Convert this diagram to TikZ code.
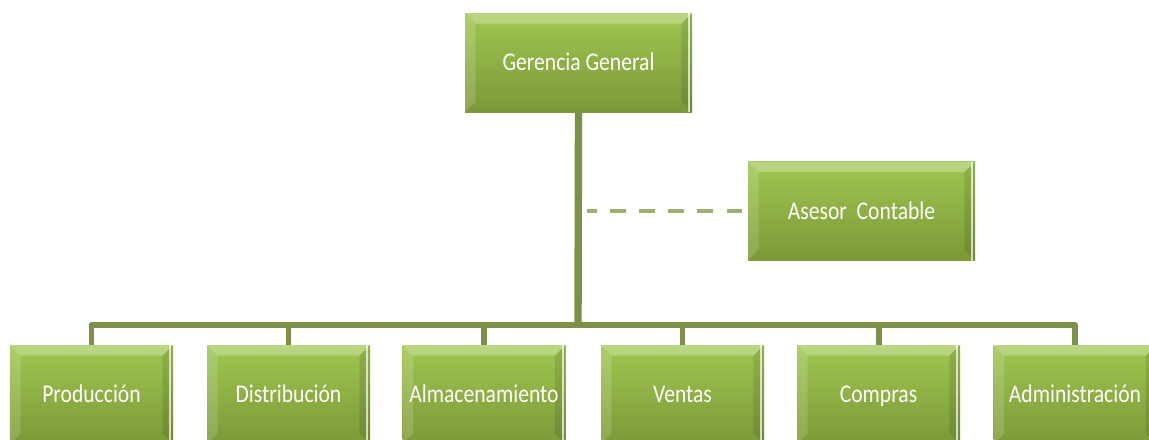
\documentclass[tikz,border=0pt]{standalone}
\usepackage{fontspec}
\setmainfont{Carlito}
\definecolor{verdeclaro}{RGB}{160,199,80}
\definecolor{verdeoscuro}{RGB}{124,152,56}
\definecolor{linea}{RGB}{125,145,70}
\definecolor{guion}{RGB}{155,176,105}
\newcommand{\rotulo}[1]{\scalebox{1}[1.18]{#1}}
\tikzset{
  cargo/.style={rectangle, inner sep=0pt, minimum width=3.26cm, minimum height=1.98cm,
    text height=11pt, text depth=1.5pt,
    top color=verdeclaro, bottom color=verdeoscuro, text=white,
    font=\fontsize{12.3}{14}\selectfont,
    path picture={
      % bisel claro arriba e izquierda, oscuro a la derecha
      \fill[white,opacity=.28] (path picture bounding box.north west) -- (path picture bounding box.north east)
        -- ([shift={(-6pt,-6pt)}]path picture bounding box.north east) -- ([shift={(6pt,-6pt)}]path picture bounding box.north west) -- cycle;
      \fill[white,opacity=.15] (path picture bounding box.north west) -- ([shift={(6pt,-6pt)}]path picture bounding box.north west)
        -- ([shift={(6pt,6pt)}]path picture bounding box.south west) -- (path picture bounding box.south west) -- cycle;
      \fill[black,opacity=.10] (path picture bounding box.north east) -- ([shift={(-6pt,-6pt)}]path picture bounding box.north east)
        -- ([shift={(-6pt,6pt)}]path picture bounding box.south east) -- (path picture bounding box.south east) -- cycle;
      \draw[white,opacity=.7,line width=1.2pt] ([xshift=-1.5pt]path picture bounding box.north east) -- ([xshift=-1.5pt]path picture bounding box.south east);
    }},
  jefe/.style={cargo, minimum width=4.54cm},
  conector/.style={draw=linea, line width=3.4pt, line join=round},
  asesoria/.style={draw=guion, line width=2.8pt, dash pattern=on 9pt off 7.6pt}
}
\begin{document}
\begin{tikzpicture}[x=0.2mm, y=-0.2mm]
\useasboundingbox (0,0) rectangle (1149,439);
\begin{scope}
\clip (0,0) rectangle (1149,439);

\node[jefe] (gg) at (578.5,62.5) {\rotulo{Gerencia General}};
\node[jefe] (asesor) at (861.5,211) {\rotulo{Asesor\ \ Contable}};
\coordinate (barra) at (578,325);

\node[cargo] (prod) at (91.5,394.5) {\rotulo{Producción}};
\node[cargo] (dist) at (288.5,394.5) {\rotulo{Distribución}};
\node[cargo] (alma) at (484,394.5) {\rotulo{Almacenamiento}};
\node[cargo] (vent) at (682.5,394.5) {\rotulo{Ventas}};
\node[cargo] (comp) at (878.5,394.5) {\rotulo{Compras}};
\node[cargo] (admi) at (1075,394.5) {\rotulo{Administración}};

\draw[conector, line width=4.2pt] (gg.south) -- (barra);
\foreach \c in {prod,dist,alma,vent,comp,admi}
  \draw[conector] (barra) -| (\c.north);
\draw[asesoria] ([xshift=-3pt]asesor.west) -- ([xshift=5pt]asesor.west -| gg.south);
\end{scope}
\end{tikzpicture}
\end{document}
